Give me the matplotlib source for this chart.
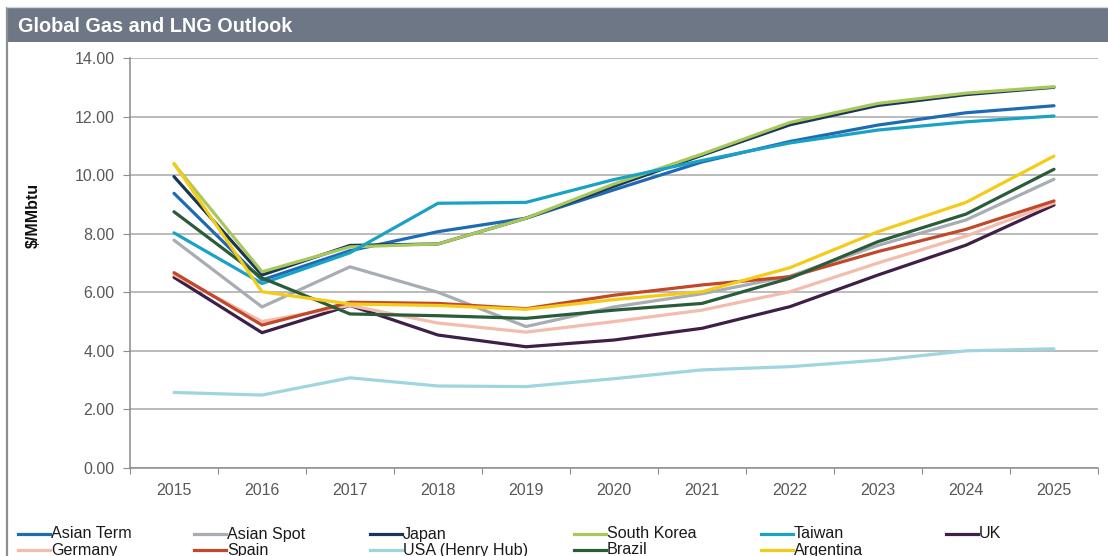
import matplotlib
matplotlib.use("Agg")
import matplotlib.pyplot as plt
from matplotlib.lines import Line2D
from matplotlib.patches import Rectangle

plt.rcParams['font.family'] = ['Liberation Sans', 'DejaVu Sans']

years = ['2015', '2016', '2017', '2018', '2019', '2020', '2021', '2022', '2023', '2024', '2025']

asian_term = [9.38, 6.42, 7.42, 8.07, 8.53, 9.50, 10.45, 11.15, 11.71, 12.13, 12.37]
asian_spot = [7.78, 5.50, 6.87, 6.00, 4.83, 5.50, 5.95, 6.55, 7.60, 8.47, 9.86]
japan = [9.95, 6.59, 7.60, 7.65, 8.53, 9.62, 10.68, 11.72, 12.38, 12.75, 13.00]
south_korea = [10.38, 6.70, 7.55, 7.65, 8.53, 9.70, 10.72, 11.80, 12.45, 12.80, 13.02]
taiwan = [8.03, 6.30, 7.35, 9.04, 9.07, 9.85, 10.50, 11.10, 11.54, 11.82, 12.02]
uk = [6.51, 4.62, 5.55, 4.54, 4.14, 4.37, 4.77, 5.51, 6.59, 7.61, 8.98]
germany = [6.60, 5.00, 5.55, 4.95, 4.64, 5.00, 5.39, 6.02, 7.00, 7.92, 9.05]
spain = [6.67, 4.88, 5.66, 5.62, 5.44, 5.90, 6.25, 6.53, 7.39, 8.15, 9.12]
usa_henry_hub = [2.58, 2.49, 3.08, 2.80, 2.78, 3.05, 3.35, 3.46, 3.68, 4.00, 4.07]
brazil = [8.75, 6.49, 5.26, 5.20, 5.11, 5.39, 5.62, 6.48, 7.73, 8.67, 10.20]
argentina = [10.40, 6.02, 5.60, 5.55, 5.42, 5.75, 6.02, 6.84, 8.07, 9.07, 10.65]

series = [
    ('Asian Term', asian_term, '#1f6bb3'),
    ('Asian Spot', asian_spot, '#a7adb3'),
    ('Japan', japan, '#1a3656'),
    ('South Korea', south_korea, '#a8c85c'),
    ('Taiwan', taiwan, '#19a2c6'),
    ('UK', uk, '#3d1f47'),
    ('Germany', germany, '#f3bcac'),
    ('Spain', spain, '#c2482a'),
    ('USA (Henry Hub)', usa_henry_hub, '#9fd5de'),
    ('Brazil', brazil, '#2a5c39'),
    ('Argentina', argentina, '#f4cb16'),
]
legend_order = ['Asian Term', 'Asian Spot', 'Japan', 'South Korea', 'Taiwan', 'UK',
                'Germany', 'Spain', 'USA (Henry Hub)', 'Brazil', 'Argentina']

W, H = 1108, 556
fig = plt.figure(figsize=(W / 100, H / 100), dpi=100)
fig.patch.set_facecolor('white')

# panel frame and title bar
fig.add_artist(Line2D([7 / W, 7 / W], [0, 1 - 8 / H], color='#8a8f96', lw=1.6,
                      transform=fig.transFigure))
fig.add_artist(Line2D([7 / W, 1], [1 - 7 / H, 1 - 7 / H], color='#d4d7db', lw=1.0,
                      transform=fig.transFigure))
fig.add_artist(Rectangle((7 / W, 1 - 42 / H), 1 - 7 / W, 34 / H,
                         transform=fig.transFigure, facecolor='#6e7786',
                         edgecolor='none'))
fig.text(18 / W, 1 - 27 / H, 'Global Gas and LNG Outlook', color='white',
         fontsize=14.3, fontweight='bold', va='center', ha='left')

ax = fig.add_axes([130 / W, 1 - 468 / H, (1098 - 130) / W, (468 - 58) / H])
x = list(range(len(years)))
for name, vals, col in series:
    ax.plot(x, vals, color=col, lw=2.3, solid_capstyle='round',
            solid_joinstyle='round')

ax.set_xlim(-0.5, len(years) - 0.5)
ax.set_ylim(0, 14)
yt = [0, 2, 4, 6, 8, 10, 12, 14]
ax.set_yticks(yt)
ax.set_yticklabels([f'{v:.2f}' for v in yt])
ax.yaxis.grid(True, color='#a8a8a8', lw=1.1)
ax.set_axisbelow(True)

ax.set_xticks([i - 0.5 for i in range(len(years) + 1)])
ax.set_xticklabels([])
ax.set_xticks(x, minor=True)
ax.set_xticklabels(years, minor=True)
ax.tick_params(axis='x', which='major', direction='out', length=4, color='#8c8c8c')
ax.tick_params(axis='x', which='minor', length=0, pad=11, labelsize=11.5,
               labelcolor='#595959')
ax.tick_params(axis='y', direction='out', length=5, color='#8c8c8c', pad=6,
               labelsize=11.5, labelcolor='#595959')
for s in ['top', 'right']:
    ax.spines[s].set_visible(False)
for s in ['left', 'bottom']:
    ax.spines[s].set_color('#8c8c8c')
    ax.spines[s].set_linewidth(1.1)

fig.text(33 / W, 1 - 215 / H, '$/MMbtu', rotation=90, fontsize=11.5,
         fontweight='bold', va='center', ha='center', color='#111111')

# legend laid out in two rows of six columns
col_x = [18, 194, 370, 574, 761, 946]
row_y = [534, 550]
for name, vals, col in series:
    r, c = divmod(legend_order.index(name), 6)
    x0 = col_x[c]
    y0 = 1 - row_y[r] / H
    fig.add_artist(Line2D([x0 / W, (x0 + 32) / W], [y0, y0], color=col, lw=2.3,
                          transform=fig.transFigure))
    fig.text((x0 + 33) / W, y0, name, fontsize=11.6, va='center', ha='left',
             color='#1a1a1a')

fig.savefig('out.png', dpi=100)
